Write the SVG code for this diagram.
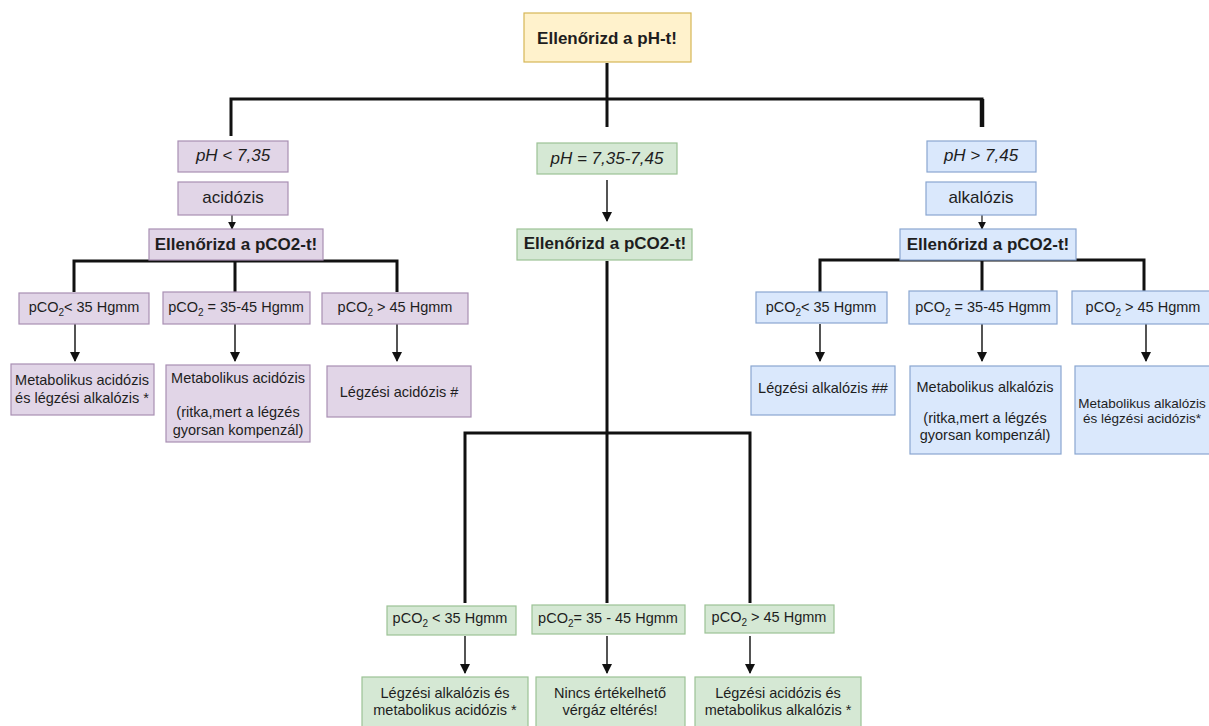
<svg xmlns="http://www.w3.org/2000/svg" width="1209" height="726" viewBox="0 0 1209 726">
  <defs>
    <style>
      .t { font-family: "Liberation Sans", Arial, Helvetica, sans-serif; fill: #1e1e1e; text-anchor: middle; }
      .big { font-size: 17px; }
      .bold { font-weight: bold; }
      .it { font-style: italic; }
      .sm { font-size: 14.5px; }
      .sub { font-size: 10px; }
      .yellow { fill: #fff2cc; stroke: #d6b656; stroke-width: 1.2; }
      .purple { fill: #e1d5e7; stroke: #a88fb3; stroke-width: 1.2; }
      .green { fill: #d5e8d4; stroke: #9cc295; stroke-width: 1.2; }
      .blue { fill: #dae8fc; stroke: #8aa6d0; stroke-width: 1.2; }
      .branch { fill: none; stroke: #111; stroke-width: 3; stroke-linejoin: miter; }
      .arrow { fill: none; stroke: #2a2a2a; stroke-width: 1.6; marker-end: url(#head); }
      .arrow-sm { fill: none; stroke: #2a2a2a; stroke-width: 1.3; marker-end: url(#head-sm); }
    </style>
    <marker id="head" viewBox="0 0 10 10" refX="9" refY="5" markerWidth="10" markerHeight="10" markerUnits="userSpaceOnUse" orient="auto">
      <path d="M0,0 L10,5 L0,10 z" fill="#111"/>
    </marker>
    <marker id="head-sm" viewBox="0 0 10 10" refX="9" refY="5" markerWidth="8" markerHeight="8" markerUnits="userSpaceOnUse" orient="auto">
      <path d="M0,0 L10,5 L0,10 z" fill="#111"/>
    </marker>
  </defs>
  <rect width="1209" height="726" fill="#ffffff"/>

  <!-- connectors -->
  <g id="connectors">
    <!-- top split -->
    <path class="branch" d="M607,63 V127"/>
    <path class="branch" d="M231,136 V99 H982 V127"/>
    <path d="M982,99 V127" fill="none" stroke="#111" stroke-width="4.5"/>
    <!-- acidosis column -->
    <path class="arrow-sm" d="M232,215 V229"/>
    <path class="branch" d="M74,292 V261 H397 V292 M235,261 V292"/>
    <path class="arrow" d="M75,324 V361"/>
    <path class="arrow" d="M235,324 V361"/>
    <path class="arrow" d="M397,324 V361"/>
    <!-- normal pH column -->
    <path class="arrow" d="M607,180 V221"/>
    <path class="branch" d="M607,261 V603 M465,603 V433 H750 V603"/>
    <path class="arrow" d="M465,636 V673"/>
    <path class="arrow" d="M607,636 V673"/>
    <path class="arrow" d="M750,636 V673"/>
    <!-- alkalosis column -->
    <path class="arrow-sm" d="M982,215 V229"/>
    <path class="branch" d="M820,292 V260 H1144 V292 M982,260 V292"/>
    <path class="arrow" d="M820,324 V361"/>
    <path class="arrow" d="M982,324 V361"/>
    <path class="arrow" d="M1146,324 V361"/>
  </g>

  <!-- root -->
  <g id="check-ph">
    <rect class="yellow" x="524" y="13" width="167" height="49"/>
    <text class="t big bold" x="607" y="44">Ellenőrizd a pH-t!</text>
  </g>

  <!-- acidosis branch -->
  <g id="ph-low">
    <rect class="purple" x="178" y="141" width="110" height="31"/>
    <text class="t big it" x="233" y="161">pH &lt; 7,35</text>
  </g>
  <g id="acidosis">
    <rect class="purple" x="178" y="182" width="110" height="33"/>
    <text class="t big" x="233" y="203">acidózis</text>
  </g>
  <g id="check-pco2-acid">
    <rect class="purple" x="149" y="229" width="174" height="31"/>
    <text class="t big bold" x="236" y="250">Ellenőrizd a pCO2-t!</text>
  </g>
  <g id="acid-pco2-low">
    <rect class="purple" x="19" y="293" width="130" height="31"/>
    <text class="t sm" x="84" y="312">pCO<tspan class="sub" dy="4">2</tspan><tspan dy="-4">&lt; 35 Hgmm</tspan></text>
  </g>
  <g id="acid-pco2-norm">
    <rect class="purple" x="163" y="292" width="147" height="32"/>
    <text class="t sm" x="236" y="312">pCO<tspan class="sub" dy="4">2</tspan><tspan dy="-4"> = 35-45 Hgmm</tspan></text>
  </g>
  <g id="acid-pco2-high">
    <rect class="purple" x="322" y="293" width="146" height="31"/>
    <text class="t sm" x="395" y="312">pCO<tspan class="sub" dy="4">2</tspan><tspan dy="-4"> &gt; 45 Hgmm</tspan></text>
  </g>
  <g id="acid-result-1">
    <rect class="purple" x="11" y="364" width="143" height="51"/>
    <text class="t sm" x="82" y="385">Metabolikus acidózis</text>
    <text class="t sm" x="82" y="403">és légzési alkalózis *</text>
  </g>
  <g id="acid-result-2">
    <rect class="purple" x="166" y="365" width="144" height="77"/>
    <text class="t sm" x="238" y="383">Metabolikus acidózis</text>
    <text class="t sm" x="238" y="417">(ritka,mert a légzés</text>
    <text class="t sm" x="238" y="435">gyorsan kompenzál)</text>
  </g>
  <g id="acid-result-3">
    <rect class="purple" x="327" y="366" width="144" height="51"/>
    <text class="t sm" x="399" y="397">Légzési acidózis #</text>
  </g>

  <!-- normal pH branch -->
  <g id="ph-normal">
    <rect class="green" x="537" y="143" width="140" height="31"/>
    <text class="t big it" x="607" y="164">pH = 7,35-7,45</text>
  </g>
  <g id="check-pco2-norm">
    <rect class="green" x="517" y="229" width="175" height="31"/>
    <text class="t big bold" x="605" y="249">Ellenőrizd a pCO2-t!</text>
  </g>
  <g id="norm-pco2-low">
    <rect class="green" x="387" y="606" width="129" height="29"/>
    <text class="t sm" x="450" y="623">pCO<tspan class="sub" dy="4">2</tspan><tspan dy="-4"> &lt; 35 Hgmm</tspan></text>
  </g>
  <g id="norm-pco2-norm">
    <rect class="green" x="532" y="605" width="153" height="29"/>
    <text class="t sm" x="608" y="623">pCO<tspan class="sub" dy="4">2</tspan><tspan dy="-4">= 35 - 45 Hgmm</tspan></text>
  </g>
  <g id="norm-pco2-high">
    <rect class="green" x="705" y="605" width="129" height="28"/>
    <text class="t sm" x="769" y="622">pCO<tspan class="sub" dy="4">2</tspan><tspan dy="-4"> &gt; 45 Hgmm</tspan></text>
  </g>
  <g id="norm-result-1">
    <rect class="green" x="362" y="677" width="166" height="54"/>
    <text class="t sm" x="445" y="698">Légzési alkalózis és</text>
    <text class="t sm" x="445" y="715">metabolikus acidózis *</text>
  </g>
  <g id="norm-result-2">
    <rect class="green" x="536" y="677" width="149" height="54"/>
    <text class="t sm" x="610" y="698">Nincs értékelhető</text>
    <text class="t sm" x="610" y="715">vérgáz eltérés!</text>
  </g>
  <g id="norm-result-3">
    <rect class="green" x="695" y="677" width="166" height="54"/>
    <text class="t sm" x="778" y="698">Légzési acidózis és</text>
    <text class="t sm" x="778" y="715">metabolikus alkalózis *</text>
  </g>

  <!-- alkalosis branch -->
  <g id="ph-high">
    <rect class="blue" x="927" y="141" width="109" height="31"/>
    <text class="t big it" x="981" y="161">pH &gt; 7,45</text>
  </g>
  <g id="alkalosis">
    <rect class="blue" x="926" y="182" width="110" height="33"/>
    <text class="t big" x="981" y="203">alkalózis</text>
  </g>
  <g id="check-pco2-alk">
    <rect class="blue" x="900" y="229" width="176" height="31"/>
    <text class="t big bold" x="988" y="250">Ellenőrizd a pCO2-t!</text>
  </g>
  <g id="alk-pco2-low">
    <rect class="blue" x="756" y="292" width="131" height="31"/>
    <text class="t sm" x="821" y="312">pCO<tspan class="sub" dy="4">2</tspan><tspan dy="-4">&lt; 35 Hgmm</tspan></text>
  </g>
  <g id="alk-pco2-norm">
    <rect class="blue" x="909" y="291" width="148" height="33"/>
    <text class="t sm" x="983" y="312">pCO<tspan class="sub" dy="4">2</tspan><tspan dy="-4"> = 35-45 Hgmm</tspan></text>
  </g>
  <g id="alk-pco2-high">
    <rect class="blue" x="1072" y="291" width="145" height="33"/>
    <text class="t sm" x="1143" y="312">pCO<tspan class="sub" dy="4">2</tspan><tspan dy="-4"> &gt; 45 Hgmm</tspan></text>
  </g>
  <g id="alk-result-1">
    <rect class="blue" x="751" y="366" width="144" height="49"/>
    <text class="t sm" x="823" y="393">Légzési alkalózis ##</text>
  </g>
  <g id="alk-result-2">
    <rect class="blue" x="910" y="366" width="151" height="88"/>
    <text class="t sm" x="985" y="392">Metabolikus alkalózis</text>
    <text class="t sm" x="985" y="423">(ritka,mert a légzés</text>
    <text class="t sm" x="985" y="440">gyorsan kompenzál)</text>
  </g>
  <g id="alk-result-3">
    <rect class="blue" x="1075" y="366" width="144" height="88"/>
    <text class="t" x="1142" y="408" style="font-size:13.5px">Metabolikus alkalózis</text>
    <text class="t" x="1142" y="423" style="font-size:13.5px">és légzési acidózis*</text>
  </g>
</svg>
